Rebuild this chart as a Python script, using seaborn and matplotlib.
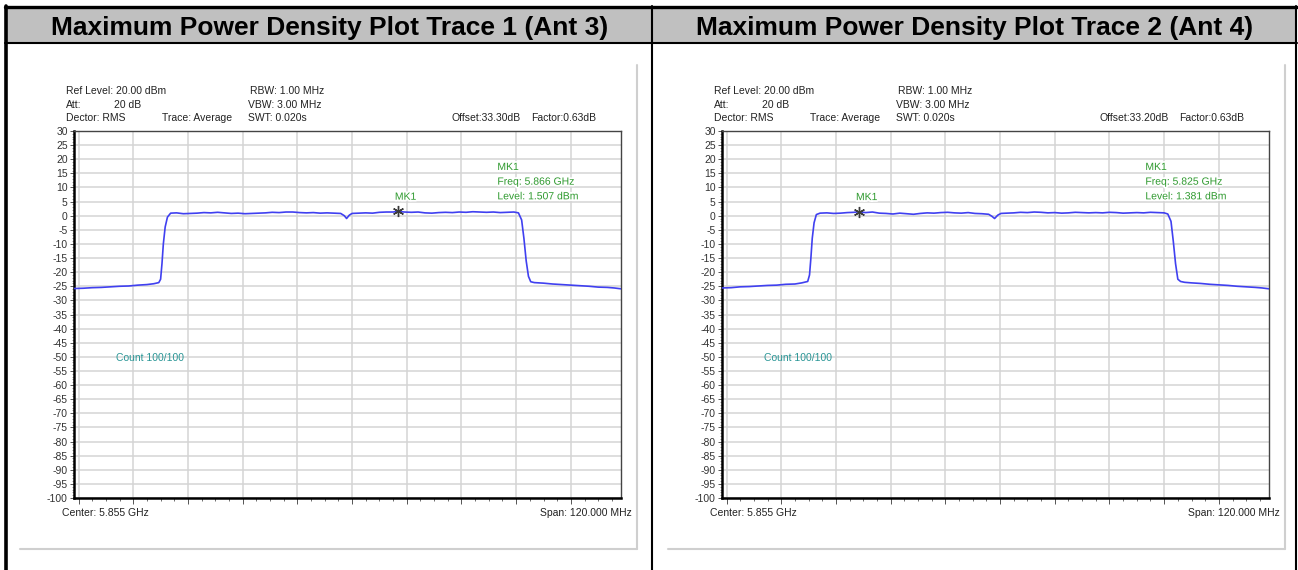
import numpy as np
import pandas as pd
import matplotlib
matplotlib.use('Agg')
import matplotlib.pyplot as plt
import matplotlib.patheffects as pe
from matplotlib.patches import Rectangle
from matplotlib.ticker import MultipleLocator, NullFormatter
import seaborn as sns

# ── Data (MHz / dBm) ────────────────────────────────────────────────────────
TITLES = ['Maximum Power Density Plot Trace 1 (Ant 3)',
          'Maximum Power Density Plot Trace 2 (Ant 4)']

freq_1 = [5795.0, 5797.0, 5799.0, 5801.0, 5803.0, 5805.0, 5807.0, 5809.0, 5811.0, 5812.5,
          5813.6, 5814.0, 5814.3, 5814.6, 5815.0, 5815.5, 5816.2, 5817.5, 5819.0, 5820.5,
          5822.0, 5823.5, 5825.0, 5826.5, 5828.0, 5829.5, 5831.0, 5832.5, 5834.0, 5835.5,
          5837.0, 5838.5, 5840.0, 5841.5, 5843.0, 5844.5, 5846.0, 5847.5, 5849.0, 5850.5,
          5852.0, 5853.5, 5854.3, 5854.8, 5855.4, 5856.0, 5857.5, 5859.0, 5860.5, 5862.0,
          5863.5, 5865.0, 5866.0, 5867.5, 5869.0, 5870.5, 5872.0, 5873.5, 5875.0, 5876.5,
          5878.0, 5879.5, 5881.0, 5882.5, 5884.0, 5885.5, 5887.0, 5888.5, 5890.0, 5891.5,
          5892.5, 5893.2, 5893.7, 5894.2, 5894.7, 5895.2, 5896.0, 5898.0, 5900.0, 5902.0,
          5904.0, 5906.0, 5908.0, 5910.0, 5912.0, 5913.5, 5915.0]
level_1 = [-25.8, -25.7, -25.5, -25.4, -25.2, -25.0, -24.9, -24.6, -24.4, -24.1,
           -23.7, -22.5, -17.0, -10.0, -4.0, -0.5, 0.9, 1.0, 0.7, 0.8,
           0.9, 1.1, 1.0, 1.2, 1.0, 0.8, 0.9, 0.7, 0.8, 0.9,
           1.0, 1.2, 1.1, 1.3, 1.3, 1.1, 1.0, 1.1, 0.9, 1.0,
           0.9, 0.8, 0.0, -1.0, 0.2, 0.8, 0.9, 1.0, 0.9, 1.2,
           1.3, 1.3, 1.5, 1.3, 1.2, 1.3, 1.0, 0.9, 1.1, 1.2,
           1.1, 1.3, 1.2, 1.4, 1.3, 1.2, 1.3, 1.1, 1.2, 1.3,
           1.0, -1.5, -8.0, -16.0, -21.5, -23.4, -23.7, -23.9, -24.2, -24.4,
           -24.6, -24.8, -25.0, -25.3, -25.4, -25.6, -25.9]

freq_2 = [5795.0, 5797.0, 5799.0, 5801.0, 5803.0, 5805.0, 5807.0, 5809.0, 5811.0, 5812.5,
          5813.8, 5814.2, 5814.5, 5814.8, 5815.2, 5815.7, 5816.5, 5818.0, 5819.5, 5821.0,
          5822.5, 5824.0, 5825.0, 5826.5, 5828.0, 5829.5, 5831.0, 5832.5, 5834.0, 5835.5,
          5837.0, 5838.5, 5840.0, 5841.5, 5843.0, 5844.5, 5846.0, 5847.5, 5849.0, 5850.5,
          5852.0, 5853.5, 5854.2, 5854.8, 5855.5, 5856.2, 5857.5, 5859.0, 5860.5, 5862.0,
          5863.5, 5865.0, 5866.5, 5868.0, 5869.5, 5871.0, 5872.5, 5874.0, 5875.5, 5877.0,
          5878.5, 5880.0, 5881.5, 5883.0, 5884.5, 5886.0, 5887.5, 5889.0, 5890.5, 5892.0,
          5892.8, 5893.5, 5894.0, 5894.5, 5895.0, 5895.6, 5896.5, 5898.0, 5900.0, 5902.0,
          5904.0, 5906.0, 5908.0, 5910.0, 5912.0, 5913.5, 5915.0]
level_2 = [-25.6, -25.5, -25.2, -25.1, -24.9, -24.7, -24.6, -24.3, -24.2, -23.8,
           -23.3, -21.0, -15.0, -8.0, -2.5, 0.4, 0.9, 1.0, 0.8, 0.9,
           1.1, 1.2, 1.4, 1.1, 1.3, 0.9, 0.8, 0.6, 0.9, 0.7,
           0.5, 0.8, 1.0, 0.9, 1.1, 1.2, 1.0, 0.9, 1.1, 0.8,
           0.7, 0.5, -0.2, -1.0, 0.2, 0.8, 0.9, 1.0, 1.2, 1.1,
           1.3, 1.2, 1.0, 1.1, 0.9, 1.0, 1.2, 1.1, 1.0, 1.1,
           1.0, 1.2, 1.1, 0.9, 1.0, 1.1, 1.0, 1.2, 1.1, 1.0,
           0.6, -2.0, -9.0, -17.0, -22.5, -23.3, -23.6, -23.8, -24.0, -24.3,
           -24.5, -24.7, -25.0, -25.2, -25.4, -25.6, -25.9]

mk_freq = [5866.0, 5825.0]
mk_level = [1.507, 1.381]
mk_freq_txt = ['5.866 GHz', '5.825 GHz']
mk_level_txt = ['1.507 dBm', '1.381 dBm']
offset_txt = ['Offset:33.30dB', 'Offset:33.20dB']

F_START, F_STOP = 5795.0, 5915.0
Y_MIN, Y_MAX = -100, 30

TRACE_BLUE = '#4040f0'
MK_GREEN = '#2f9a2f'
COUNT_TEAL = '#2a9696'
TXT = '#222222'

sns.set_style('white')
plt.rcParams['font.family'] = ['Liberation Sans', 'DejaVu Sans']
plt.rcParams['axes.unicode_minus'] = False

W, H = 1298, 570
fig = plt.figure(figsize=(W / 100, H / 100), dpi=100)

# background canvas in pixel coordinates for the table frame and labels
bg = fig.add_axes([0, 0, 1, 1], zorder=0)
bg.set_xlim(0, W)
bg.set_ylim(H, 0)
bg.axis('off')

bg.add_patch(Rectangle((6, 8), 1290, 34, color='#c0c0c0', lw=0))
bg.plot([5, 1297], [7, 7], color='black', lw=2.4)
bg.plot([5, 1297], [42.5, 42.5], color='black', lw=1.5)
bg.plot([5.5, 5.5], [6, H], color='black', lw=2.6)
bg.plot([652, 652], [6, H], color='black', lw=1.5)
bg.plot([1296, 1296], [6, H], color='black', lw=1.5)

panel_dx = [0, 648]
traces = [(freq_1, level_1), (freq_2, level_2)]

for i in range(2):
    dx = panel_dx[i]
    bg.text(330 + dx * 0.995, 27.5, TITLES[i], ha='center', va='center',
            fontsize=19, fontweight='bold', color='black')

    # light-grey frame of the analyser window
    bg.plot([20 + dx, 637 + dx], [549, 549], color='#cfcfcf', lw=1.5)
    bg.plot([637 + dx, 637 + dx], [65, 549], color='#cfcfcf', lw=1.5)

    # settings block above the grid
    fs = 7.5
    bg.text(66 + dx, 91, 'Ref Level: 20.00 dBm', fontsize=fs, color=TXT, va='center')
    bg.text(66 + dx, 104.5, 'Att:', fontsize=fs, color=TXT, va='center')
    bg.text(114 + dx, 104.5, '20 dB', fontsize=fs, color=TXT, va='center')
    bg.text(66 + dx, 118, 'Dector: RMS', fontsize=fs, color=TXT, va='center')
    bg.text(162 + dx, 118, 'Trace: Average', fontsize=fs, color=TXT, va='center')
    bg.text(250 + dx, 91, 'RBW: 1.00 MHz', fontsize=fs, color=TXT, va='center')
    bg.text(248 + dx, 104.5, 'VBW: 3.00 MHz', fontsize=fs, color=TXT, va='center')
    bg.text(248 + dx, 118, 'SWT: 0.020s', fontsize=fs, color=TXT, va='center')
    bg.text(452 + dx, 118, offset_txt[i], fontsize=fs, color=TXT, va='center')
    bg.text(531 + dx, 118, 'Factor:0.63dB', fontsize=fs, color=TXT, va='center')
    bg.text(62 + dx, 513, 'Center: 5.855 GHz', fontsize=fs, color=TXT, va='center')
    bg.text(632 + dx, 513, 'Span: 120.000 MHz', fontsize=fs, color=TXT,
            va='center', ha='right')

    # ── spectrum grid ────────────────────────────────────────────────────
    left = (74 + dx) / W
    ax = fig.add_axes([left, 1 - 498 / H, 547 / W, 367 / H], zorder=2)
    ax.set_facecolor('white')
    df = pd.DataFrame({'freq': traces[i][0], 'level': traces[i][1]})
    sns.lineplot(data=df, x='freq', y='level', ax=ax, color=TRACE_BLUE,
                 lw=1.2, estimator=None, sort=False, zorder=3)
    ax.plot(mk_freq[i], mk_level[i], marker=(6, 2, 0), ms=8, mew=1.0,
            color='#3a3a3a', zorder=4)
    ax.annotate('MK1', (mk_freq[i], mk_level[i]), xytext=(-2, 7),
                textcoords='offset points', fontsize=fs, color=MK_GREEN,
                ha='left', va='bottom', zorder=5,
                path_effects=[pe.withStroke(linewidth=2.5, foreground='white')])

    info = ['MK1', 'Freq: ' + mk_freq_txt[i], 'Level: ' + mk_level_txt[i]]
    for k, line in enumerate(info):
        ax.text(0.774, 0.902 - k * 0.04, line, transform=ax.transAxes,
                fontsize=fs, color=MK_GREEN, va='center', zorder=5,
                path_effects=[pe.withStroke(linewidth=2.5, foreground='white')])
    ax.text(0.077, 0.381, 'Count 100/100', transform=ax.transAxes,
            fontsize=fs, color=COUNT_TEAL, va='center')

    ax.set_xlim(F_START, F_STOP)
    ax.set_ylim(Y_MIN, Y_MAX)
    ax.xaxis.set_major_locator(MultipleLocator(12))
    ax.xaxis.set_minor_locator(MultipleLocator(3))
    ax.xaxis.set_major_formatter(NullFormatter())
    ax.yaxis.set_major_locator(MultipleLocator(5))
    ax.yaxis.set_minor_locator(MultipleLocator(1))
    ax.grid(True, which='major', color='#d4d4d4', lw=1.1)
    ax.set_axisbelow(True)
    ax.tick_params(axis='y', which='major', labelsize=7.5, labelcolor='#333333',
                   length=3, width=0.7, color='#555555', pad=1.5, left=True)
    ax.tick_params(axis='y', which='minor', length=1.5, width=0.5,
                   color='#777777', left=True)
    ax.tick_params(axis='x', which='major', length=4, width=0.7,
                   color='#555555', bottom=True)
    ax.tick_params(axis='x', which='minor', length=2, width=0.6,
                   color='#555555', bottom=True)
    ax.set_xlabel('')
    ax.set_ylabel('')
    for side in ['left', 'bottom']:
        ax.spines[side].set_linewidth(1.8)
        ax.spines[side].set_color('black')
    for side in ['top', 'right']:
        ax.spines[side].set_linewidth(1.0)
        ax.spines[side].set_color('#444444')
        ax.spines[side].set_visible(True)

fig.savefig('out.png', dpi=100, facecolor='white')
